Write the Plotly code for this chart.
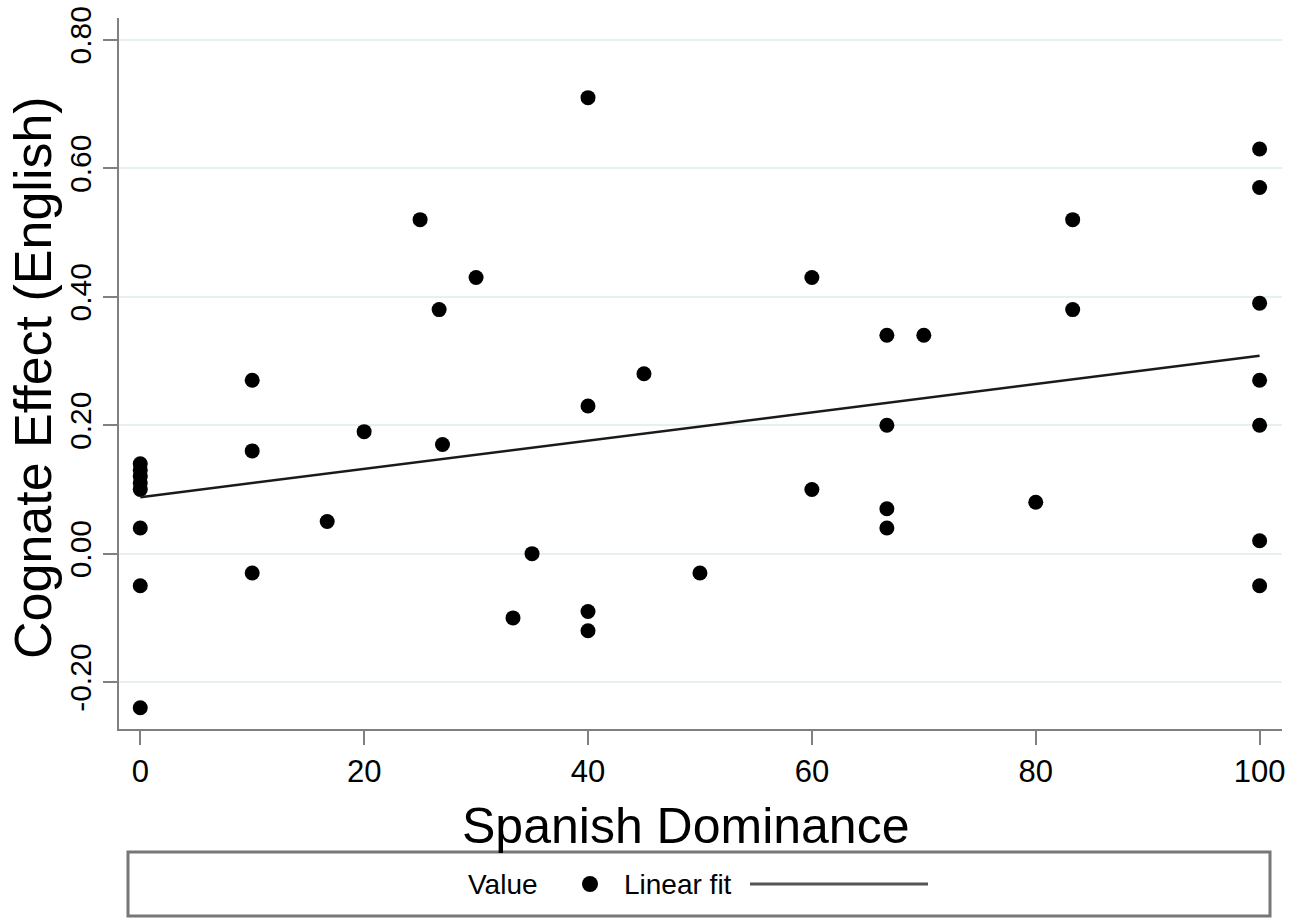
import plotly.graph_objects as go

# Data
spanish_dominance = [0, 0, 0, 0, 0, 0, 0, 0,
                     10, 10, 10,
                     16.7, 20, 25, 26.7, 27, 30, 33.3, 35,
                     40, 40, 40, 40,
                     45, 50, 60, 60,
                     66.7, 66.7, 66.7, 66.7,
                     70, 80, 83.3, 83.3,
                     100, 100, 100, 100, 100, 100, 100]
cognate_effect = [-0.24, -0.05, 0.04, 0.10, 0.11, 0.12, 0.13, 0.14,
                  0.27, 0.16, -0.03,
                  0.05, 0.19, 0.52, 0.38, 0.17, 0.43, -0.10, 0.00,
                  0.71, 0.23, -0.09, -0.12,
                  0.28, -0.03, 0.43, 0.10,
                  0.34, 0.20, 0.07, 0.04,
                  0.34, 0.08, 0.52, 0.38,
                  0.63, 0.57, 0.39, 0.27, 0.20, 0.02, -0.05]
fit_x = [0, 100]
fit_y = [0.088, 0.308]

x_ticks = [0, 20, 40, 60, 80, 100]
y_ticks = [-0.2, 0.0, 0.2, 0.4, 0.6, 0.8]
y_tick_labels = ["-0.20", "0.00", "0.20", "0.40", "0.60", "0.80"]

x_title = "Spanish Dominance"
y_title = "Cognate Effect (English)"

FONT = "Liberation Sans, Arial, Helvetica, sans-serif"
AXIS_GRAY = "#808080"
GRID = "#e6eff1"

L, R, T, B = 119, 23, 18, 189
PW = 1305 - L - R
PH = 918 - T - B


def px(xpix):
    return (xpix - L) / PW


def py(ypix):
    return (918 - B - ypix) / PH


fig = go.Figure()
fig.add_trace(go.Scatter(x=spanish_dominance, y=cognate_effect, mode="markers",
                         name="Value",
                         marker=dict(color="black", size=15, line=dict(width=0)),
                         showlegend=False))
fig.add_trace(go.Scatter(x=fit_x, y=fit_y, mode="lines", name="Linear fit",
                         line=dict(color="#1a1a1a", width=2.5), showlegend=False))

fig.update_layout(
    width=1305, height=918,
    margin=dict(l=L, r=R, t=T, b=B),
    paper_bgcolor="white", plot_bgcolor="white",
    font=dict(family=FONT, color="black"),
    xaxis=dict(range=[-1.9, 102], tickvals=x_ticks, ticks="outside", ticklen=14,
               tickwidth=2, tickcolor=AXIS_GRAY, showline=True, linecolor=AXIS_GRAY,
               linewidth=2, showgrid=False, zeroline=False, automargin=False,
               tickfont=dict(size=31, family=FONT, color="black")),
    yaxis=dict(range=[-0.273, 0.834], tickvals=y_ticks, ticktext=y_tick_labels,
               tickangle=-90, ticks="outside", ticklen=14, tickwidth=2,
               tickcolor=AXIS_GRAY, showline=True, linecolor=AXIS_GRAY, linewidth=2,
               showgrid=True, gridcolor=GRID, gridwidth=2, zeroline=False,
               automargin=False,
               tickfont=dict(size=30, family=FONT, color="black")),
)

# Axis titles
fig.add_annotation(xref="paper", yref="paper", x=px(686), y=py(826),
                   xanchor="center", yanchor="middle", text=x_title, showarrow=False,
                   font=dict(size=50, family=FONT, color="black"))
fig.add_annotation(xref="paper", yref="paper", x=px(33), y=py(378),
                   xanchor="center", yanchor="middle", text=y_title, showarrow=False,
                   textangle=-90, font=dict(size=52, family=FONT, color="black"))

# Legend box (Stata style) drawn below the plot
fig.add_shape(type="rect", xref="paper", yref="paper",
              x0=px(128), x1=px(1270), y0=py(916), y1=py(852),
              line=dict(color="#777777", width=3), fillcolor="white")
ly = py(884)
fig.add_annotation(xref="paper", yref="paper", x=px(540), y=ly,
                   xanchor="right", yanchor="middle", text="Value", showarrow=False,
                   font=dict(size=28, family=FONT, color="black"))
fig.add_shape(type="circle", xref="paper", yref="paper",
              x0=px(582), x1=px(598), y0=ly - 8 / PH, y1=ly + 8 / PH,
              fillcolor="black", line=dict(width=0))
fig.add_annotation(xref="paper", yref="paper", x=px(622), y=ly,
                   xanchor="left", yanchor="middle", text="Linear fit", showarrow=False,
                   font=dict(size=28, family=FONT, color="black"))
fig.add_shape(type="line", xref="paper", yref="paper",
              x0=px(750), x1=px(928), y0=ly, y1=ly,
              line=dict(color="#555555", width=3))

fig.write_html("out.html")
